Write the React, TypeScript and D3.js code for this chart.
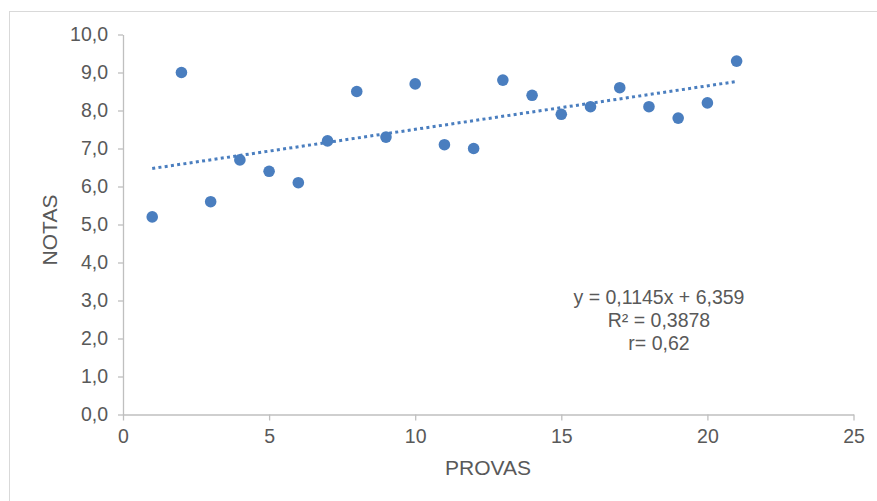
import React, { useEffect, useRef } from 'react'
import * as d3 from 'd3'

const width = 877
const height = 501

// PROVAS (x) and NOTAS (y)
const provas = [1, 2, 3, 4, 5, 6, 7, 8, 9, 10, 11, 12, 13, 14, 15, 16, 17, 18, 19, 20, 21]
const notas = [5.2, 9.0, 5.6, 6.7, 6.4, 6.1, 7.2, 8.5, 7.3, 8.7, 7.1, 7.0, 8.8, 8.4, 7.9, 8.1, 8.6, 8.1, 7.8, 8.2, 9.3]

const xTicks = [0, 5, 10, 15, 20, 25]
const yTicks = [0, 1, 2, 3, 4, 5, 6, 7, 8, 9, 10]

// trendline shown in the chart
const slope = 0.1145
const intercept = 6.359
const eqLines = ['y = 0,1145x + 6,359', 'R² = 0,3878', 'r= 0,62']

const blue = '#4a7ebf'
const axisColor = '#bfbfbf'
const textColor = '#595959'
const font = 'Arial, "Liberation Sans", sans-serif'

const ptBR = d3.formatLocale({ decimal: ',', thousands: '.', grouping: [3], currency: ['R$', ''] })
const fmtY = ptBR.format('.1f')

function App() {
    const ref = useRef<SVGSVGElement>(null)

    useEffect(() => {
        const svg = d3.select(ref.current)
        svg.selectAll('*').remove()

        const x = d3.scaleLinear().domain([0, 25]).range([123, 853.5])
        const y = d3.scaleLinear().domain([0, 10]).range([414.5, 34.5])

        // chart frame (only left/top visible)
        svg.append('rect')
            .attr('x', 9.5).attr('y', 11.5)
            .attr('width', 1000).attr('height', 1000)
            .attr('fill', 'white')
            .attr('stroke', '#d9d9d9')

        const xAxis = svg.append('g')
            .attr('transform', `translate(0,${y(0)})`)
            .call(d3.axisBottom(x).tickValues(xTicks).tickSize(6).tickSizeOuter(0).tickPadding(9).tickFormat(d3.format('d')))
        const yAxis = svg.append('g')
            .attr('transform', `translate(${x(0)},0)`)
            .call(d3.axisLeft(y).tickValues(yTicks).tickSize(5).tickSizeOuter(0).tickPadding(10).tickFormat(d => fmtY(d as number)))

        for (const g of [xAxis, yAxis]) {
            g.selectAll('path, line').attr('stroke', axisColor).attr('stroke-width', 1.3)
            g.selectAll('text')
                .attr('fill', textColor)
                .style('font-family', font)
                .style('font-size', '19.5px')
        }

        // trend line
        const line = d3.line<number>().x(d => x(d)).y(d => y(slope * d + intercept))
        svg.append('path')
            .attr('d', line([provas[0], provas[provas.length - 1]]))
            .attr('fill', 'none')
            .attr('stroke', blue)
            .attr('stroke-width', 3)
            .attr('stroke-dasharray', '3,3.3')

        svg.append('g')
            .selectAll('circle')
            .data(provas)
            .join('circle')
            .attr('cx', d => x(d))
            .attr('cy', (d, i) => y(notas[i]))
            .attr('r', 5.8)
            .attr('fill', blue)

        svg.append('text')
            .attr('transform', `translate(57,230) rotate(-90)`)
            .attr('text-anchor', 'middle')
            .attr('fill', textColor)
            .style('font-family', font)
            .style('font-size', '21px')
            .text('NOTAS')

        svg.append('text')
            .attr('x', 488).attr('y', 475)
            .attr('text-anchor', 'middle')
            .attr('fill', textColor)
            .style('font-family', font)
            .style('font-size', '21px')
            .text('PROVAS')

        svg.append('g')
            .selectAll('text')
            .data(eqLines)
            .join('text')
            .attr('x', 659)
            .attr('y', (d, i) => 304 + i * 23)
            .attr('text-anchor', 'middle')
            .attr('fill', textColor)
            .style('font-family', font)
            .style('font-size', '19.5px')
            .text(d => d)
    }, [])

    return (
        <svg ref={ref} width={width} height={height}
            style={{ position: 'absolute', left: 0, top: 0, background: 'white' }} />
    )
}

export default App
